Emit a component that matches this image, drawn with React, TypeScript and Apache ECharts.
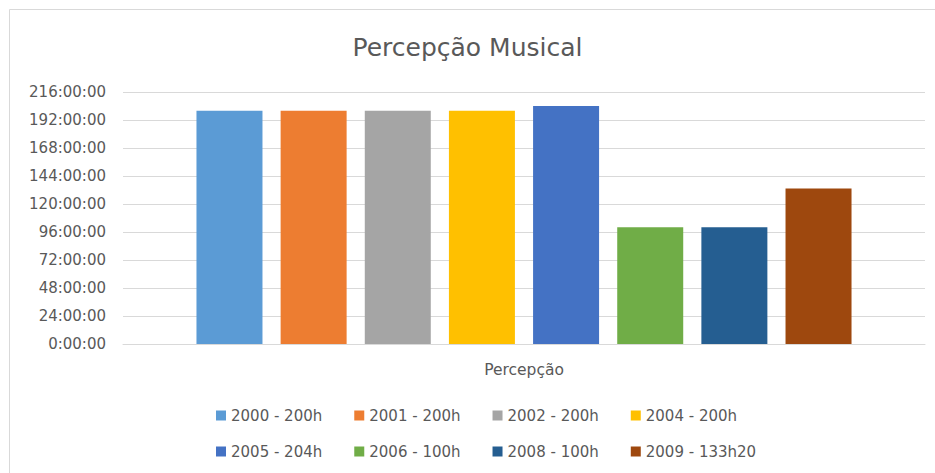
import React, { useEffect, useRef } from "react";
import * as echarts from "echarts";

const categories = ["Percepção"];
const seriesNames = [
  "2000 - 200h",
  "2001 - 200h",
  "2002 - 200h",
  "2004 - 200h",
  "2005 - 204h",
  "2006 - 100h",
  "2008 - 100h",
  "2009 - 133h20",
];
// hours
const seriesValues = [200, 200, 200, 200, 204, 100, 100, 133 + 20 / 60];
const seriesColors = [
  "#5B9BD5",
  "#ED7D31",
  "#A5A5A5",
  "#FFC000",
  "#4472C4",
  "#70AD47",
  "#255E91",
  "#9E480E",
];
const yTicks = { min: 0, max: 216, interval: 24 };

const FONT = "DejaVu Sans";
const GREY = "#595959";

export default function App() {
  const ref = useRef<HTMLDivElement>(null);
  useEffect(() => {
    if (!ref.current) return;
    const chart = echarts.init(ref.current, null, { renderer: "svg" });
    const legendBase = {
      orient: "horizontal",
      left: 211,
      itemWidth: 10,
      itemHeight: 10,
      itemGap: 32,
      icon: "rect",
      textStyle: { fontFamily: FONT, fontSize: 15, color: GREY },
    };
    chart.setOption({
      animation: false,
      backgroundColor: "#ffffff",
      title: {
        text: "Percepção Musical",
        left: "center",
        top: 30,
        textStyle: { fontFamily: FONT, fontSize: 25, fontWeight: "normal", color: GREY },
      },
      legend: [
        { ...legendBase, top: 403, data: seriesNames.slice(0, 4) },
        { ...legendBase, top: 439, data: seriesNames.slice(4) },
      ],
      grid: { left: 123, right: 10, top: 92, bottom: 129, containLabel: false },
      xAxis: {
        type: "category",
        data: categories,
        axisLine: { show: true, lineStyle: { color: "#d9d9d9", width: 1 } },
        axisTick: { show: false },
        axisLabel: { fontFamily: FONT, fontSize: 15.5, color: GREY, margin: 18 },
      },
      yAxis: {
        type: "value",
        min: yTicks.min,
        max: yTicks.max,
        interval: yTicks.interval,
        axisLine: { show: false },
        axisTick: { show: false },
        axisLabel: {
          fontFamily: FONT,
          fontSize: 15,
          color: GREY,
          margin: 17,
          formatter: (v: number) => `${v}:00:00`,
        },
        splitLine: { lineStyle: { color: "#d9d9d9", width: 1 } },
      },
      graphic: [
        {
          type: "rect",
          shape: { x: 9.5, y: 9.5, width: 1000, height: 1000 },
          style: { fill: "none", stroke: "#d9d9d9", lineWidth: 1 },
          silent: true,
        },
      ],
      series: seriesNames.map((name, i) => ({
        name,
        type: "bar",
        data: [seriesValues[i]],
        barWidth: 66,
        barGap: "27.5%",
        itemStyle: { color: seriesColors[i] },
      })),
    });
    return () => chart.dispose();
  }, []);
  return (
    <div
      ref={ref}
      style={{ position: "fixed", left: 0, top: 0, width: 935, height: 473 }}
    />
  );
}
